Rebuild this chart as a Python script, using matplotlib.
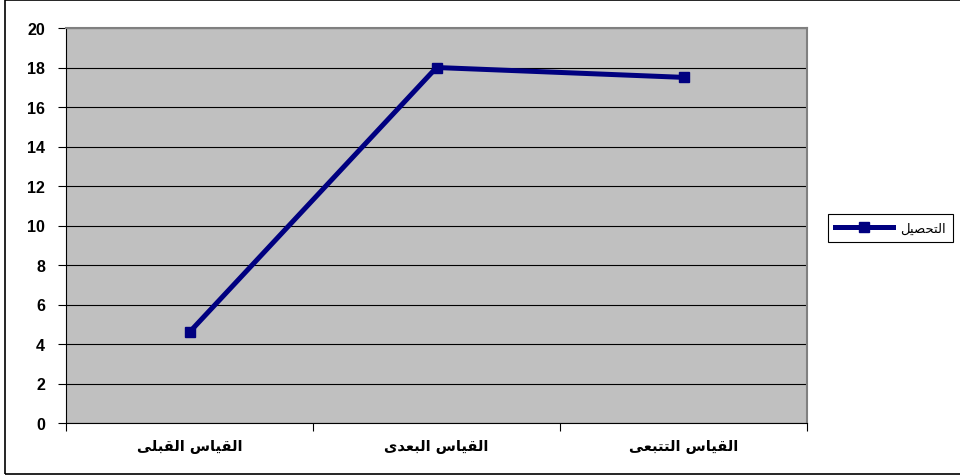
import matplotlib
matplotlib.use("Agg")
import matplotlib.pyplot as plt
from matplotlib.patches import Rectangle

# ---- data ----
categories = ["القياس القبلى", "القياس البعدى", "القياس التتبعى"]
values = [4.6, 18.0, 17.5]
series_name = "التحصيل"
y_ticks = [0, 2, 4, 6, 8, 10, 12, 14, 16, 18, 20]

# ---- minimal Arabic shaping (presentation forms, visual order) ----
FORMS = {
    'ا': ('\uFE8D', '\uFE8E', None, None),
    'ل': ('\uFEDD', '\uFEDE', '\uFEDF', '\uFEE0'),
    'ق': ('\uFED5', '\uFED6', '\uFED7', '\uFED8'),
    'ي': ('\uFEF1', '\uFEF2', '\uFEF3', '\uFEF4'),
    'س': ('\uFEB1', '\uFEB2', '\uFEB3', '\uFEB4'),
    'ب': ('\uFE8F', '\uFE90', '\uFE91', '\uFE92'),
    'ع': ('\uFEC9', '\uFECA', '\uFECB', '\uFECC'),
    'د': ('\uFEA9', '\uFEAA', None, None),
    'ى': ('\uFEEF', '\uFEF0', '\uFBE8', '\uFBE9'),
    'ت': ('\uFE95', '\uFE96', '\uFE97', '\uFE98'),
    'ح': ('\uFEA1', '\uFEA2', '\uFEA3', '\uFEA4'),
    'ص': ('\uFEB9', '\uFEBA', '\uFEBB', '\uFEBC'),
}


def joins_next(c):
    return c in FORMS and FORMS[c][2] is not None


def shape(text):
    out = []
    for i, c in enumerate(text):
        if c not in FORMS:
            out.append(c)
            continue
        prev = text[i - 1] if i > 0 else ''
        nxt = text[i + 1] if i + 1 < len(text) else ''
        cp = joins_next(prev)
        cn = joins_next(c) and nxt in FORMS
        iso, fin, ini, med = FORMS[c]
        if cp and cn:
            out.append(med)
        elif cp:
            out.append(fin)
        elif cn:
            out.append(ini)
        else:
            out.append(iso)
    return ''.join(reversed(out))


FONT = ['Liberation Sans', 'DejaVu Sans']
plt.rcParams['font.family'] = FONT

fig = plt.figure(figsize=(9.6, 4.77), dpi=100)
ax = fig.add_axes([66 / 960, 1 - 424 / 477, (807 - 66) / 960, (424 - 29) / 477])
ax.set_facecolor('#C0C0C0')

x = list(range(len(categories)))
ax.plot(x, values, color='#000080', linewidth=3.6, marker='s', markersize=6.5,
        markerfacecolor='#000080', markeredgecolor='#000080', label=shape(series_name),
        solid_joinstyle='miter', zorder=3)

ax.set_xlim(-0.5, len(categories) - 0.5)
ax.set_ylim(0, 20)
ax.set_yticks(y_ticks)
ax.set_yticklabels([str(t) for t in y_ticks], fontsize=11.5, fontweight='bold')
ax.set_xticks([i - 0.5 for i in range(len(categories) + 1)], minor=False)
ax.set_xticklabels([])
ax.set_xticks(x, minor=True)
ax.set_xticklabels([shape(c) for c in categories], minor=True, fontsize=10.5,
                   fontweight='bold', family=['DejaVu Sans'])
ax.tick_params(axis='x', which='minor', length=0, pad=11)
ax.tick_params(axis='x', which='major', length=6, width=0.8, direction='out', color='black')
ax.tick_params(axis='y', length=6, width=0.8, direction='out', color='black', pad=9)

ax.grid(axis='y', color='black', linewidth=0.8)
ax.set_axisbelow(True)
for s in ['top', 'right']:
    ax.spines[s].set_color('#808080')
    ax.spines[s].set_linewidth(1.5)
for s in ['left', 'bottom']:
    ax.spines[s].set_color('black')
    ax.spines[s].set_linewidth(0.8)

leg = ax.legend(loc='center left', bbox_to_anchor=(828 / 960, 1 - 229 / 477),
                bbox_transform=fig.transFigure, frameon=True, fancybox=False,
                edgecolor='black', framealpha=1, handlelength=4.4, borderpad=0.55,
                borderaxespad=0, handletextpad=0.5,
                prop={'family': ['DejaVu Sans'], 'size': 9.5})
leg.get_frame().set_linewidth(0.8)

fig.patches.append(Rectangle((5 / 960, 1 - 475 / 477), 1.2, 474 / 477,
                             transform=fig.transFigure, fill=False,
                             edgecolor='black', linewidth=1.2, figure=fig))

fig.savefig('out.png', dpi=100)
